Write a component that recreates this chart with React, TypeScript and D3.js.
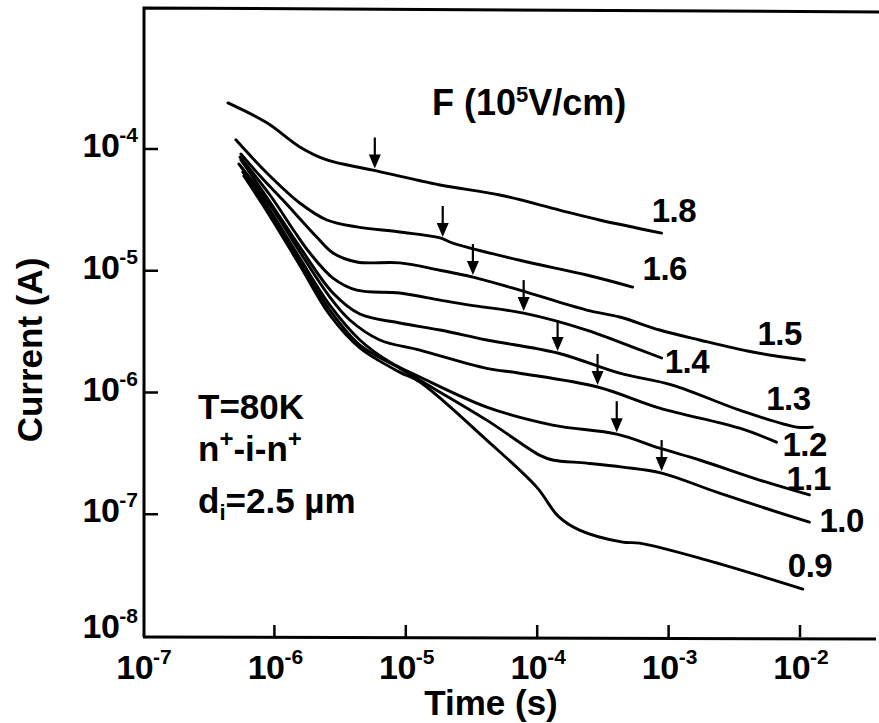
import React, { useEffect, useRef } from 'react';
import * as d3 from 'd3';

// F values (10^5 V/cm), one per curve, top to bottom
const fieldLabels = ['1.8', '1.6', '1.5', '1.4', '1.3', '1.2', '1.1', '1.0', '0.9'];

// [time (s), current (A)]
const curve18 = [[4.43e-7, 2.39e-4], [8.77e-7, 1.64e-4], [1.56e-6, 1.04e-4], [2.51e-6, 8.13e-5], [5.61e-6, 6.71e-5], [1.82e-5, 5.06e-5], [5.19e-5, 4.19e-5], [1.48e-4, 3.15e-5], [2.98e-4, 2.61e-5], [8.85e-4, 2.04e-5]];
const curve16 = [[5.09e-7, 1.19e-4], [8.77e-7, 6.35e-5], [1.56e-6, 3.6e-5], [2.51e-6, 2.61e-5], [4.24e-6, 2.29e-5], [8.99e-6, 2.08e-5], [1.82e-5, 1.86e-5], [2.28e-5, 1.69e-5], [7.36e-5, 1.22e-5], [2.38e-4, 9.23e-6], [5.32e-4, 7.35e-6]];
const curve15 = [[5.56e-7, 9.1e-5], [8.04e-7, 5.78e-5], [1.16e-6, 3.81e-5], [2.1e-6, 1.89e-5], [2.79e-6, 1.4e-5], [4.24e-6, 1.18e-5], [8.99e-6, 1.16e-5], [1.82e-5, 1.01e-5], [3.24e-5, 8.87e-6], [7.36e-5, 6.93e-6], [2.38e-4, 4.75e-6], [4.24e-4, 4.17e-6], [8.55e-4, 3.26e-6], [1.72e-3, 2.7e-6], [4.36e-3, 2.15e-6], [1.08e-2, 1.85e-6]];
const curve14 = [[5.47e-7, 8.59e-5], [9.25e-7, 4.19e-5], [1.43e-6, 2.08e-5], [1.86e-6, 1.4e-5], [2.79e-6, 8.71e-6], [4.24e-6, 6.93e-6], [8.99e-6, 6.56e-6], [1.82e-5, 5.74e-6], [3.07e-5, 5.22e-6], [7.89e-5, 4.49e-6], [2.38e-4, 3.26e-6], [4.24e-4, 2.59e-6], [8.85e-4, 1.92e-6]];
const curve13 = [[5.56e-7, 8.13e-5], [9.25e-7, 3.67e-5], [1.56e-6, 1.57e-5], [2.79e-6, 6.56e-6], [4.47e-6, 4.41e-6], [8.99e-6, 3.72e-6], [1.82e-5, 3.26e-6], [4.13e-5, 2.7e-6], [1.43e-4, 2.11e-6], [4.24e-4, 1.44e-6], [1.07e-3, 1.15e-6], [3.47e-3, 7.16e-7], [9.4e-3, 5.2e-7], [1.24e-2, 5.2e-7]];
const curve12 = [[5.37e-7, 7.53e-5], [9.25e-7, 3.47e-5], [1.56e-6, 1.43e-5], [2.64e-6, 6.08e-6], [3.75e-6, 3.94e-6], [6.34e-6, 2.7e-6], [1.28e-5, 2.23e-6], [4.13e-5, 1.58e-6], [7.36e-5, 1.44e-6], [2.88e-4, 1.11e-6], [8.55e-4, 7.45e-7], [3.47e-3, 5.09e-7], [6.62e-3, 3.91e-7]];
const curve11 = [[5.66e-7, 6.98e-5], [9.25e-7, 3.15e-5], [1.56e-6, 1.27e-5], [2.64e-6, 5.22e-6], [4.47e-6, 2.7e-6], [7.55e-6, 1.78e-6], [1.28e-5, 1.34e-6], [4.13e-5, 7.59e-7], [1.31e-4, 5.4e-7], [4.03e-4, 4.55e-7], [8.55e-4, 3.49e-7], [1.72e-3, 2.79e-7], [4.92e-3, 1.91e-7], [1.18e-2, 1.44e-7]];
const curve10 = [[5.75e-7, 6.47e-5], [9.25e-7, 2.98e-5], [1.56e-6, 1.18e-5], [2.64e-6, 4.75e-6], [4.47e-6, 2.45e-6], [8.99e-6, 1.58e-6], [1.28e-5, 1.26e-6], [4.13e-5, 5.93e-7], [1.04e-4, 3.06e-7], [1.31e-4, 2.79e-7], [2.38e-4, 2.63e-7], [4.47e-4, 2.44e-7], [8.85e-4, 2.18e-7], [2.44e-3, 1.49e-7], [1.18e-2, 8.61e-8]];
const curve09 = [[5.86e-7, 6.0e-5], [9.25e-7, 2.81e-5], [1.56e-6, 1.11e-5], [2.64e-6, 4.33e-6], [4.47e-6, 2.32e-6], [8.99e-6, 1.47e-6], [1.28e-5, 1.22e-6], [4.13e-5, 4.06e-7], [9.91e-5, 1.67e-7], [1.45e-4, 9.6e-8], [2.1e-4, 7.4e-8], [4.47e-4, 5.9e-8], [6.01e-4, 5.79e-8], [1.95e-3, 4.2e-8], [1.05e-2, 2.43e-8]];

const curves = [curve18, curve16, curve15, curve14, curve13, curve12, curve11, curve10, curve09];

// arrow positions (time) on the first eight curves
const arrowTimes = [5.81e-6, 1.91e-5, 3.24e-5, 7.89e-5, 1.43e-4, 2.88e-4, 4.03e-4, 8.85e-4];

const xTickExps = [-7, -6, -5, -4, -3, -2];
const yTickExps = [-8, -7, -6, -5, -4];

// label offset from curve end, px
const labelOffsets = [[-10, -11], [10, -7], [-47, -15], [3, 15], [-46, -17], [6, 14], [-23, -5], [10, 10], [-15, -12]];

const FONT = "'Liberation Sans', Arial, Helvetica, sans-serif";

const App = () => {
  const svgRef = useRef<SVGSVGElement>(null);

  useEffect(() => {
    const svg = d3.select(svgRef.current);
    svg.selectAll('*').remove();

    const x = d3.scaleLog().domain([1e-7, 1e-2]).range([143, 800]);
    const y = d3.scaleLog().domain([1e-8, 1e-4]).range([636, 149]);
    const left = 144;
    const bottom = 637;

    // frame (no right side)
    svg.append('path')
      .attr('d', `M${left},${bottom} L${left},8 L879,12`)
      .attr('fill', 'none')
      .attr('stroke', '#000')
      .attr('stroke-width', 3);
    svg.append('line')
      .attr('x1', left - 1).attr('x2', 876)
      .attr('y1', bottom).attr('y2', bottom + 2)
      .attr('stroke', '#000')
      .attr('stroke-width', 3);

    // ticks, pointing inward
    xTickExps.slice(1).forEach((e) => {
      const px = x(Math.pow(10, e));
      svg.append('line')
        .attr('x1', px).attr('x2', px)
        .attr('y1', bottom).attr('y2', bottom - 12)
        .attr('stroke', '#000').attr('stroke-width', 2.5);
    });
    yTickExps.slice(1).forEach((e) => {
      const py = y(Math.pow(10, e));
      svg.append('line')
        .attr('x1', left).attr('x2', left + 14)
        .attr('y1', py).attr('y2', py)
        .attr('stroke', '#000').attr('stroke-width', 2.5);
    });

    // tick labels with superscript exponents
    const tickLabel = (tx, ty, e, anchor) => {
      const t = svg.append('text')
        .attr('x', tx).attr('y', ty)
        .attr('text-anchor', anchor)
        .attr('font-family', FONT)
        .attr('font-weight', 'bold')
        .attr('font-size', 34)
        .attr('letter-spacing', -0.5);
      t.append('tspan').text('10');
      t.append('tspan').attr('dy', -15).attr('font-size', 21).attr('letter-spacing', 0).text(String(e));
    };
    xTickExps.forEach((e) => tickLabel(x(Math.pow(10, e)) + 1, 679, e, 'middle'));
    yTickExps.forEach((e) => tickLabel(138, Math.min(y(Math.pow(10, e)) + 8, 638), e, 'end'));

    // curves
    const line = d3.line()
      .x((d) => x(d[0]))
      .y((d) => y(d[1]))
      .curve(d3.curveCatmullRom.alpha(0.5));

    curves.forEach((c) => {
      svg.append('path')
        .datum(c)
        .attr('d', line)
        .attr('fill', 'none')
        .attr('stroke', '#000')
        .attr('stroke-width', 2.9)
        .attr('stroke-linejoin', 'round')
        .attr('stroke-linecap', 'round');
    });

    // arrows pointing down onto the curves
    arrowTimes.forEach((t, i) => {
      const pts = curves[i].map((p) => [x(p[0]), y(p[1])]);
      const ax = x(t);
      let ay = pts[0][1];
      for (let k = 0; k < pts.length - 1; k++) {
        if (ax >= pts[k][0] && ax <= pts[k + 1][0]) {
          const f = (ax - pts[k][0]) / (pts[k + 1][0] - pts[k][0]);
          ay = pts[k][1] + f * (pts[k + 1][1] - pts[k][1]);
        }
      }
      const tip = ay - 2;
      svg.append('line')
        .attr('x1', ax).attr('x2', ax)
        .attr('y1', tip - 31).attr('y2', tip - 12)
        .attr('stroke', '#000').attr('stroke-width', 2.2);
      svg.append('path')
        .attr('d', `M${ax - 6},${tip - 14} L${ax + 6},${tip - 14} L${ax},${tip} Z`)
        .attr('fill', '#000');
    });

    // curve labels
    curves.forEach((c, i) => {
      const last = c[c.length - 1];
      svg.append('text')
        .attr('x', x(last[0]) + labelOffsets[i][0])
        .attr('y', y(last[1]) + labelOffsets[i][1])
        .attr('font-family', FONT)
        .attr('font-weight', 'bold')
        .attr('font-size', 33)
        .attr('letter-spacing', -0.5)
        .text(fieldLabels[i]);
    });

    // legend title
    const title = svg.append('text')
      .attr('x', 432).attr('y', 115)
      .attr('font-family', FONT).attr('font-weight', 'bold').attr('font-size', 36);
    title.append('tspan').text('F (10');
    title.append('tspan').attr('dy', -13).attr('font-size', 22).text('5');
    title.append('tspan').attr('dy', 13).text('V/cm)');

    // conditions
    const note = (ty) => svg.append('text')
      .attr('x', 198).attr('y', ty)
      .attr('font-family', FONT).attr('font-weight', 'bold').attr('font-size', 35);
    note(419).text('T=80K');
    const n2 = note(461);
    n2.append('tspan').text('n');
    n2.append('tspan').attr('dy', -14).attr('font-size', 24).text('+');
    n2.append('tspan').attr('dy', 14).text('-i-n');
    n2.append('tspan').attr('dy', -14).attr('font-size', 24).text('+');
    const n3 = note(513);
    n3.append('tspan').text('d');
    n3.append('tspan').attr('dy', 7).attr('font-size', 22).text('i');
    n3.append('tspan').attr('dy', -7).text('=2.5 \u00b5m');

    // axis titles
    svg.append('text')
      .attr('x', 491).attr('y', 715)
      .attr('text-anchor', 'middle')
      .attr('font-family', FONT).attr('font-weight', 'bold').attr('font-size', 35)
      .text('Time (s)');
    svg.append('text')
      .attr('transform', 'translate(42,350) rotate(-90)')
      .attr('text-anchor', 'middle')
      .attr('font-family', FONT).attr('font-weight', 'bold').attr('font-size', 35)
      .text('Current (A)');
  }, []);

  return (
    <svg
      ref={svgRef}
      width={879}
      height={723}
      style={{ position: 'absolute', left: 0, top: 0, background: '#fff' }}
    />
  );
};

export default App;
